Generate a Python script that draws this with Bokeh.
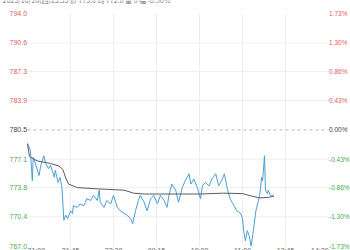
from bokeh.plotting import figure
from bokeh.models import Range1d
from bokeh.core.properties import value
from bokeh.embed import file_html
from bokeh.resources import INLINE

header = "2025/10/16(四)13:33  价 773.0  均 772.8  量 0  幅 -0.96%"
pre_close = 780.5

price_times = ["21:00", "21:03", "21:05", "21:06", "21:08", "21:12", "21:14", "21:17", "21:19", "21:22",
               "21:24", "21:28", "21:29", "21:32", "21:34", "21:36", "21:38", "21:40", "21:42", "21:45",
               "21:47", "21:48", "21:52", "21:55", "21:59", "22:02", "22:06", "22:09", "22:13", "22:15",
               "22:16", "22:20", "22:23", "22:27", "22:30", "22:34", "22:37", "22:41", "22:44", "22:48",
               "22:50", "22:53", "22:56", "22:58", "09:02", "09:05", "09:09", "09:12", "09:16", "09:19",
               "09:23", "09:26", "09:28", "09:31", "09:35", "09:38", "09:42", "09:45", "09:49", "09:51",
               "09:54", "09:58", "10:01", "10:03", "10:06", "10:10", "10:13", "10:32", "10:35", "10:39",
               "10:41", "10:44", "10:47", "10:51", "10:54", "10:58", "11:00", "11:01", "11:03", "11:05",
               "11:07", "11:09", "11:11", "11:14", "11:18", "11:20", "11:21", "11:23", "11:24", "11:26",
               "11:27", "11:29", "13:31", "13:33"]
prices = [778.9, 778.1, 774.6, 777.3, 776.7, 775.2, 776.4, 777.5, 776.6, 776.0,
          776.4, 775.0, 775.8, 774.4, 775.0, 773.8, 770.0, 770.6, 770.2, 771.1,
          770.8, 771.7, 771.5, 771.9, 771.7, 772.5, 772.3, 772.9, 772.3, 773.5,
          772.1, 771.5, 772.3, 771.9, 772.9, 771.5, 771.1, 770.8, 770.6, 770.2,
          769.6, 771.1, 772.3, 772.9, 772.1, 771.1, 772.5, 772.9, 771.9, 772.9,
          772.3, 771.5, 772.9, 774.2, 773.5, 772.1, 773.8, 774.6, 775.4, 774.2,
          774.8, 773.7, 772.5, 774.0, 774.4, 774.0, 774.8, 775.4, 774.0, 774.8,
          775.4, 773.7, 772.5, 771.7, 771.1, 770.8, 770.2, 769.0, 767.6, 768.8,
          768.2, 767.0, 768.5, 771.1, 772.9, 775.0, 774.6, 777.5, 773.5, 773.1,
          773.5, 772.9, 772.8, 773.0]

avg_times = ["21:00", "21:02", "21:10", "21:24", "21:33", "21:37", "21:40", "21:43", "21:52", "22:13",
             "22:41", "22:51", "09:02", "10:00", "10:40", "11:00", "11:10", "11:18", "11:26", "13:33"]
avg_prices = [778.9, 777.4, 776.9, 776.6, 776.3, 775.9, 774.9, 774.2, 773.8, 773.65,
              773.5, 773.15, 773.05, 773.05, 773.15, 773.1, 772.8, 772.6, 772.65, 772.8]

y_ticks = [794.0, 790.6, 787.3, 783.9, 780.5, 777.1, 773.8, 770.4, 767.0]
pct_labels = ["1.73%", "1.30%", "0.86%", "0.43%", "0.00%", "-0.43%", "-0.86%", "-1.30%", "-1.73%"]
x_labels = ["21:00", "21:45", "22:30", "09:15", "10:00", "11:00", "13:45", "14:30"]

SESSIONS = [(21 * 60, 23 * 60, 0), (9 * 60, 10 * 60 + 15, 120),
            (10 * 60 + 30, 11 * 60 + 30, 195), (13 * 60 + 30, 15 * 60, 255)]


def tmin(t):
    h, m = map(int, t.split(":"))
    c = h * 60 + m
    for s, e, off in SESSIONS:
        if s <= c <= e:
            return off + c - s
    return None


RED, GREEN, GREY = "#e46060", "#3fae4a", "#444444"

px = [tmin(t) for t in price_times]
ax = [tmin(t) for t in avg_times]
xt = [tmin(t) for t in x_labels]

p = figure(width=350, height=250, output_backend="svg", toolbar_location=None,
           x_range=Range1d(-28.3, 338.0), y_range=Range1d(766.49, 795.53),
           x_axis_location=None, y_axis_location=None, min_border=0,
           outline_line_color=None, background_fill_color="white",
           border_fill_color="white")
p.grid.visible = False

x0, x1 = xt[0], xt[-1]
inner = [v for v in y_ticks[1:-1] if v != pre_close]
p.segment(x0=[x0] * len(inner), x1=[x1] * len(inner), y0=inner, y1=inner,
          line_color="#eeeeee", line_width=1)
p.segment(x0=xt[1:-1], x1=xt[1:-1], y0=[y_ticks[-1]] * (len(xt) - 2),
          y1=[y_ticks[0]] * (len(xt) - 2), line_color="#eeeeee", line_width=1)
p.segment(x0=[x0], x1=[x1], y0=[pre_close], y1=[pre_close],
          line_color="#bbbbbb", line_width=1, line_dash="3 3")

p.line(px, prices, line_color="#4a9fd4", line_width=1)
p.line(ax, avg_prices, line_color="#5c5c5c", line_width=1)

colors = [RED if v > pre_close else (GREEN if v < pre_close else GREY) for v in y_ticks]
p.text(x=[-0.5] * len(y_ticks), y=y_ticks, text=["%.1f" % v for v in y_ticks],
       text_color=colors, text_font=value("Liberation Sans"), text_font_size="7px",
       text_align="right", text_baseline="middle")
p.text(x=[x1 + 0.5] * len(y_ticks), y=y_ticks, text=pct_labels,
       text_color=colors, text_font=value("Liberation Sans"), text_font_size="6.5px",
       text_align="left", text_baseline="middle")

aligns = ["left"] + ["center"] * (len(xt) - 2) + ["right"]
p.text(x=xt, y=[766.95] * len(xt), text=x_labels, text_color="#666666",
       text_font=value("Liberation Sans"), text_font_size="7px",
       text_align=aligns, text_baseline="top")

p.text(x=[-26.2], y=[794.95], text=[header], text_color="#777777",
       text_font=value("Noto Sans CJK SC"), text_font_size="7px",
       text_align="left", text_baseline="bottom")

open("out.html", "w").write(file_html(p, INLINE))
